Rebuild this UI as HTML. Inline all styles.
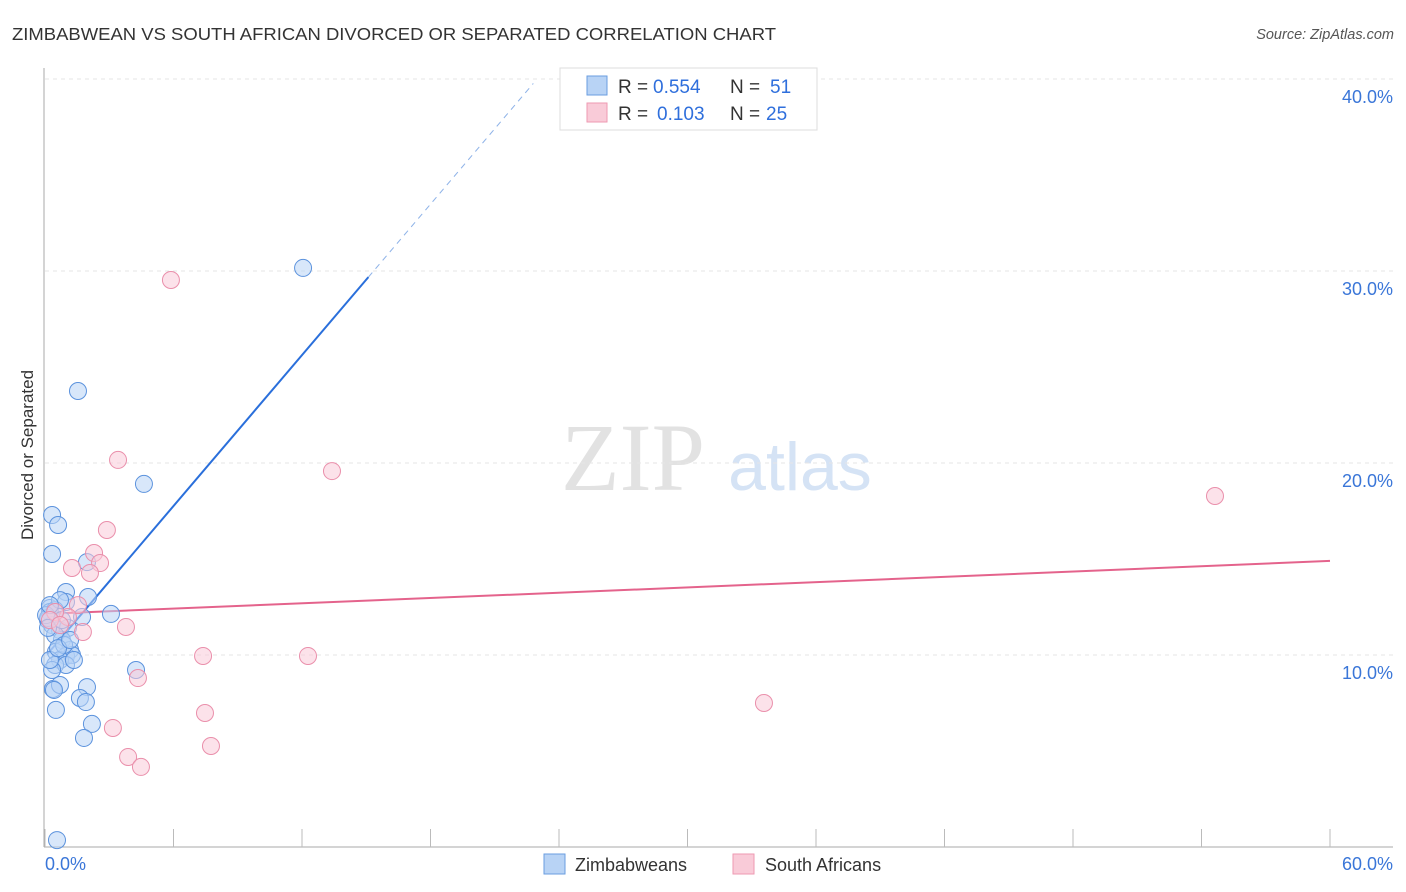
<!DOCTYPE html>
<html><head><meta charset="utf-8">
<style>
body{margin:0;background:#fff;font-family:"Liberation Sans",sans-serif;}
svg{display:block}
</style></head>
<body>
<svg width="1406" height="892">
<text x="12" y="40" font-size="17.5" fill="#333" textLength="764" lengthAdjust="spacingAndGlyphs">ZIMBABWEAN VS SOUTH AFRICAN DIVORCED OR SEPARATED CORRELATION CHART</text>
<text x="1394" y="39" font-size="14.5" fill="#555" font-style="italic" text-anchor="end">Source: ZipAtlas.com</text>
<text transform="translate(33,455) rotate(-90)" font-size="17" fill="#333" text-anchor="middle">Divorced or Separated</text>
<g>
<text x="633" y="490" font-size="96" fill="#e2e2e2" font-family="Liberation Serif,serif" text-anchor="middle">ZIP</text>
<text x="800" y="490" font-size="68" fill="#d5e3f5" text-anchor="middle">atlas</text>
</g>
<g id="grid"></g>
<g id="axes"></g>
<g id="trend"></g>
<g id="points"></g>
<g>
<rect x="560" y="68" width="257" height="62" fill="#fff" stroke="#ddd"/>
<rect x="587" y="76" width="20" height="19" fill="#b8d3f5" stroke="#6a9ee0"/>
<rect x="587" y="103" width="20" height="19" fill="#f9cbd8" stroke="#ee9ab2"/>
<text x="618" y="93" font-size="19" fill="#333">R =</text>
<text x="653" y="93" font-size="19" fill="#2f6fdc">0.554</text>
<text x="730" y="93" font-size="19" fill="#333">N =</text>
<text x="770" y="93" font-size="19" fill="#2f6fdc">51</text>
<text x="618" y="120" font-size="19" fill="#333">R =</text>
<text x="657" y="120" font-size="19" fill="#2f6fdc">0.103</text>
<text x="730" y="120" font-size="19" fill="#333">N =</text>
<text x="766" y="120" font-size="19" fill="#2f6fdc">25</text>
</g>
<g>
<rect x="544" y="854" width="21" height="20" fill="#b8d3f5" stroke="#6a9ee0"/>
<text x="575" y="871" font-size="18" fill="#333">Zimbabweans</text>
<rect x="733" y="854" width="21" height="20" fill="#f9cbd8" stroke="#ee9ab2"/>
<text x="765" y="871" font-size="18" fill="#333">South Africans</text>
</g>
</svg>
<script>
const blueX=[12.05,1.54,4.62,0.33,0.61,0.33,1.96,0.98,2.01,0.98,3.08,1.73,0.23,0.23,0.47,0.14,0.33,0.70,1.07,0.79,1.17,0.51,0.98,1.26,0.70,0.47,0.98,0.33,4.25,1.96,0.37,0.70,1.63,1.91,0.51,2.19,1.82,0.56,0.14,0.47,0.89,0.23,0.61,1.35,0.05,0.14,0.79,1.17,0.42,0.70,0.23];
const blueY=[30.16,23.75,18.91,17.29,16.77,15.26,14.84,13.28,13.02,12.76,12.14,11.98,12.45,12.24,12.34,11.82,11.56,11.30,11.41,10.78,10.26,10.16,9.95,10.0,9.74,9.48,9.48,9.22,9.22,8.33,8.23,8.44,7.76,7.55,7.14,6.41,5.68,0.36,11.93,11.04,10.52,9.74,10.36,9.74,12.08,11.41,11.82,10.78,8.18,12.86,12.60];
const pinkX=[5.88,3.41,13.40,54.63,2.89,2.29,2.57,1.26,2.10,1.54,1.07,1.77,3.78,0.47,0.23,0.70,7.38,12.28,4.34,33.57,7.47,3.17,7.75,3.88,4.48];
const pinkY=[29.53,20.16,19.58,18.28,16.51,15.31,14.79,14.53,14.27,12.60,11.98,11.20,11.46,12.24,11.82,11.56,9.95,9.95,8.80,7.50,6.98,6.20,5.26,4.69,4.17];
const yTicks=[10,20,30,40];
const yTickLabels=["10.0%","20.0%","30.0%","40.0%"];
const xTicks=[0,6,12,18,24,30,36,42,48,54,60];
const blueTrend=[9.9,1.31];
const pinkTrend=[12.14,0.046];
const NS="http://www.w3.org/2000/svg";
const sx=v=>45+v/60*1285, sy=v=>847-v*19.2;
function mk(tag,attrs,parent){const e=document.createElementNS(NS,tag);for(const k in attrs)e.setAttribute(k,attrs[k]);parent.appendChild(e);return e;}
const grid=document.getElementById('grid'),axes=document.getElementById('axes'),trend=document.getElementById('trend'),pts=document.getElementById('points');
yTicks.forEach((t,i)=>{
  const l=mk('line',{x1:45,x2:1393,y1:sy(t),y2:sy(t),stroke:'#e6e6e6','stroke-dasharray':'4,4'},grid);
  
  
  const tx=mk('text',{x:1393,y:sy(t)+24,'font-size':18,fill:'#3a76d8','text-anchor':'end'},axes);
  tx.textContent=yTickLabels[i];
  
  
});
const ax=mk('line',{x1:44,x2:44,y1:68,y2:847,stroke:'#aaa'},axes);


const bx=mk('line',{x1:44,x2:1393,y1:847,y2:847,stroke:'#aaa'},axes);


xTicks.forEach(t=>{
  const l=mk('line',{x1:sx(t),x2:sx(t),y1:829,y2:847,stroke:'#bbb'},axes);
  
  
});
const xl0=mk('text',{x:45,y:870,'font-size':18,fill:'#3a76d8'},axes);xl0.textContent='0.0%';


const xl1=mk('text',{x:1393,y:870,'font-size':18,fill:'#3a76d8','text-anchor':'end'},axes);xl1.textContent='60.0%';


function pointsFor(X,Y,fill,stroke,name){X.forEach((x,i)=>{const c=mk('circle',{cx:sx(x),cy:sy(Y[i]),r:8.5,fill:fill,stroke:stroke,'stroke-width':1,'fill-opacity':0.55},pts);
  
  });}
pointsFor(blueX,blueY,'#b8d3f5','#5b92dd','zimbabwean-point');
pointsFor(pinkX,pinkY,'#f9cbd8','#ea8fab','south-african-point');
const bf=x=>blueTrend[0]+blueTrend[1]*x, pf=x=>pinkTrend[0]+pinkTrend[1]*x;
const b1=mk('line',{x1:sx(0.1),y1:sy(bf(0.1)),x2:sx(15.1),y2:sy(bf(15.1)),stroke:'#2a6fdb','stroke-width':2},trend);


const b2=mk('line',{x1:sx(15.1),y1:sy(bf(15.1)),x2:sx(22.8),y2:sy(bf(22.8)),stroke:'#8fb3e8','stroke-width':1,'stroke-dasharray':'6,5'},trend);


const p1=mk('line',{x1:sx(0),y1:sy(pf(0)),x2:sx(60),y2:sy(pf(60)),stroke:'#e4638c','stroke-width':2},trend);


</script>
</body></html>
